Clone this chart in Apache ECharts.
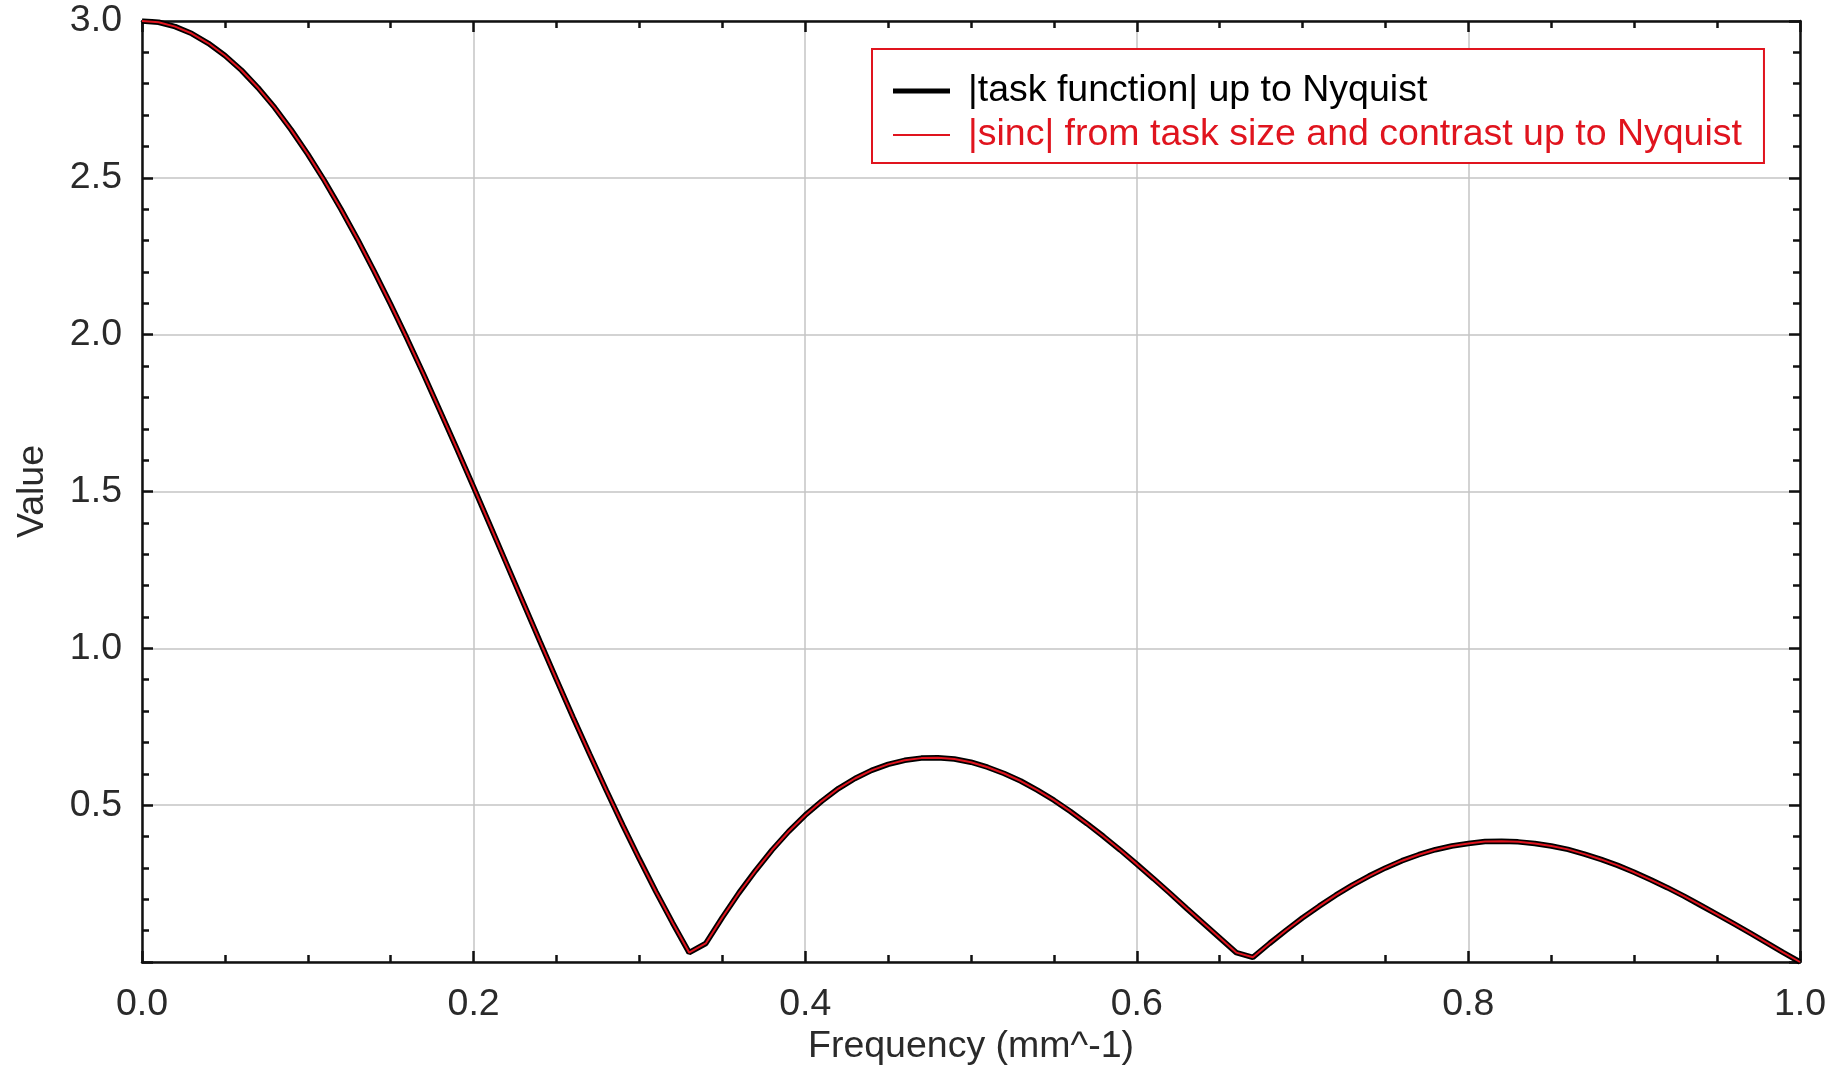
<!DOCTYPE html>
<html>
<head>
<meta charset="utf-8">
<script src="https://cdn.jsdelivr.net/npm/echarts@6/dist/echarts.min.js"></script>
<style>
html,body{margin:0;padding:0;background:#fff;}
#chart{width:1835px;height:1071px;}
</style>
</head>
<body>
<div id="chart"></div>
<script>
// Frequency samples (mm^-1)
const freqs = [0.00,0.01,0.02,0.03,0.04,0.05,0.06,0.07,0.08,0.09,
  0.10,0.11,0.12,0.13,0.14,0.15,0.16,0.17,0.18,0.19,
  0.20,0.21,0.22,0.23,0.24,0.25,0.26,0.27,0.28,0.29,
  0.30,0.31,0.32,0.33,0.34,0.35,0.36,0.37,0.38,0.39,
  0.40,0.41,0.42,0.43,0.44,0.45,0.46,0.47,0.48,0.49,
  0.50,0.51,0.52,0.53,0.54,0.55,0.56,0.57,0.58,0.59,
  0.60,0.61,0.62,0.63,0.64,0.65,0.66,0.67,0.68,0.69,
  0.70,0.71,0.72,0.73,0.74,0.75,0.76,0.77,0.78,0.79,
  0.80,0.81,0.82,0.83,0.84,0.85,0.86,0.87,0.88,0.89,
  0.90,0.91,0.92,0.93,0.94,0.95,0.96,0.97,0.98,0.99,1.00];

// |task function| values
const taskValues = [3.000,2.996,2.982,2.960,2.929,2.890,2.843,2.787,2.724,2.653,
  2.575,2.491,2.400,2.304,2.202,2.096,1.986,1.872,1.754,1.635,
  1.514,1.391,1.268,1.145,1.022,0.900,0.780,0.663,0.548,0.436,
  0.328,0.224,0.125,0.030,0.059,0.142,0.220,0.291,0.357,0.416,
  0.468,0.513,0.553,0.585,0.611,0.630,0.643,0.650,0.651,0.647,
  0.637,0.621,0.601,0.577,0.548,0.516,0.480,0.441,0.400,0.357,
  0.312,0.266,0.219,0.171,0.124,0.077,0.030,0.015,0.059,0.101,
  0.141,0.178,0.213,0.245,0.274,0.300,0.323,0.342,0.358,0.370,
  0.378,0.384,0.385,0.383,0.378,0.370,0.359,0.344,0.327,0.308,
  0.286,0.262,0.237,0.210,0.181,0.152,0.122,0.092,0.061,0.030,0.000];

// |sinc| from task size and contrast values
const sincValues = [3.000,2.996,2.982,2.960,2.929,2.890,2.843,2.787,2.724,2.653,
  2.575,2.491,2.400,2.304,2.202,2.096,1.986,1.872,1.754,1.635,
  1.514,1.391,1.268,1.145,1.022,0.900,0.780,0.663,0.548,0.436,
  0.328,0.224,0.125,0.030,0.059,0.142,0.220,0.291,0.357,0.416,
  0.468,0.513,0.553,0.585,0.611,0.630,0.643,0.650,0.651,0.647,
  0.637,0.621,0.601,0.577,0.548,0.516,0.480,0.441,0.400,0.357,
  0.312,0.266,0.219,0.171,0.124,0.077,0.030,0.015,0.059,0.101,
  0.141,0.178,0.213,0.245,0.274,0.300,0.323,0.342,0.358,0.370,
  0.378,0.384,0.385,0.383,0.378,0.370,0.359,0.344,0.327,0.308,
  0.286,0.262,0.237,0.210,0.181,0.152,0.122,0.092,0.061,0.030,0.000];

const seriesNames = ['|task function| up to Nyquist', '|sinc| from task size and contrast up to Nyquist'];
const xTitle = 'Frequency (mm^-1)';
const yTitle = 'Value';

const FONT = 'Liberation Sans, Arial, sans-serif';
const FS = 37.5;
const RED = '#e0141e';
const TXT = '#2a2a2a';

const chart = echarts.init(document.getElementById('chart'), null, {renderer: 'canvas'});

const axisLineStyle = {show: true, onZero: false, lineStyle: {color: '#111', width: 2.5}};
const tickInside = {show: true, inside: true, length: 11, lineStyle: {color: '#111', width: 2.5}};
const minorInside = (n) => ({show: true, splitNumber: n, length: 7, lineStyle: {color: '#111', width: 2.5}});

const option = {
  backgroundColor: '#fff',
  animation: false,
  grid: {left: 142, right: 35, top: 21, bottom: 109, outerBoundsMode: 'none', containLabel: false},
  legend: {
    orient: 'vertical',
    left: 872,
    top: 49,
    padding: [23, 22, 9, 21],
    itemGap: 6,
    itemWidth: 57,
    itemHeight: 14,
    borderColor: RED,
    borderWidth: 2,
    borderRadius: 0,
    backgroundColor: '#fff',
    textStyle: {fontFamily: FONT, fontSize: FS, padding: [0, 0, 0, 13]},
    data: [
      {name: seriesNames[0], icon: 'path://M0,0L57,0L57,5L0,5Z', itemStyle: {color: '#000'}, textStyle: {color: '#000'}},
      {name: seriesNames[1], icon: 'path://M0,0L57,0L57,2L0,2Z', itemStyle: {color: RED}, textStyle: {color: RED}}
    ]
  },
  xAxis: [{
    type: 'value', min: 0, max: 1, interval: 0.2,
    position: 'bottom',
    name: xTitle, nameLocation: 'middle', nameGap: 66, nameMoveOverlap: false,
    nameTextStyle: {fontFamily: FONT, fontSize: FS, color: TXT},
    axisLine: axisLineStyle,
    axisTick: tickInside,
    minorTick: minorInside(4),
    splitLine: {show: true, lineStyle: {color: '#c4c4c4', width: 1.5}},
    axisLabel: {fontFamily: FONT, fontSize: FS, color: TXT, margin: 24,
      formatter: v => v.toFixed(1)}
  }, {
    type: 'value', min: 0, max: 1, interval: 0.2,
    position: 'top',
    axisLine: axisLineStyle,
    axisTick: tickInside,
    minorTick: minorInside(4),
    splitLine: {show: false},
    axisLabel: {show: false}
  }],
  yAxis: [{
    type: 'value', min: 0, max: 3, interval: 0.5,
    position: 'left',
    name: yTitle, nameLocation: 'middle', nameGap: 90, nameMoveOverlap: false,
    nameTextStyle: {fontFamily: FONT, fontSize: FS, color: TXT},
    axisLine: axisLineStyle,
    axisTick: tickInside,
    minorTick: minorInside(5),
    splitLine: {show: true, lineStyle: {color: '#c4c4c4', width: 1.5}},
    axisLabel: {fontFamily: FONT, fontSize: FS, color: TXT, margin: 20,
      formatter: v => v === 0 ? '' : v.toFixed(1)}
  }, {
    type: 'value', min: 0, max: 3, interval: 0.5,
    position: 'right',
    axisLine: axisLineStyle,
    axisTick: tickInside,
    minorTick: minorInside(5),
    splitLine: {show: false},
    axisLabel: {show: false}
  }],
  series: [{
    name: seriesNames[0],
    type: 'line',
    xAxisIndex: 0, yAxisIndex: 0,
    symbol: 'none',
    lineStyle: {color: '#000', width: 5.5},
    itemStyle: {color: '#000'},
    data: freqs.map((f, i) => [f, taskValues[i]])
  }, {
    name: seriesNames[1],
    type: 'line',
    xAxisIndex: 0, yAxisIndex: 0,
    symbol: 'none',
    lineStyle: {color: RED, width: 2},
    itemStyle: {color: RED},
    data: freqs.map((f, i) => [f, sincValues[i]])
  }]
};

chart.setOption(option);
</script>
</body>
</html>
